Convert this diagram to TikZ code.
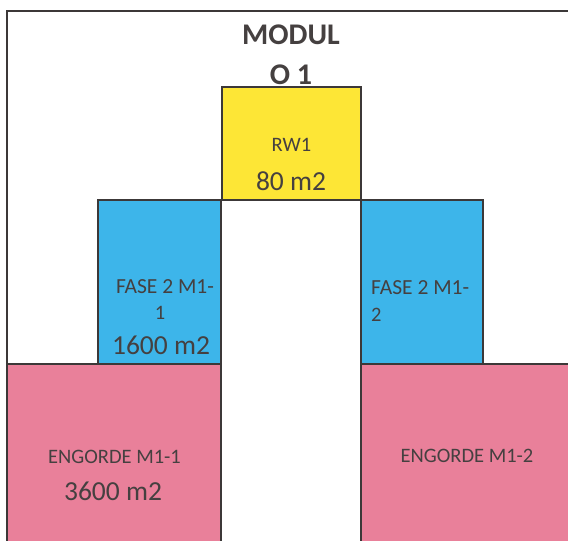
\documentclass[tikz,border=0pt]{standalone}
\usepackage{fontspec}
\setmainfont{Carlito}
\definecolor{ylw}{HTML}{FDE636}
\definecolor{blu}{HTML}{3DB5EA}
\definecolor{pnk}{HTML}{E9809A}
\definecolor{edgec}{HTML}{3C3838}
\definecolor{txt}{HTML}{454040}
\begin{document}
\begin{tikzpicture}[x=1pt,y=-1pt,
 room/.style={draw=edgec, line width=1.6pt, rectangle, inner sep=0pt, outer sep=0pt, anchor=north west},
 lbl/.style={text=txt, inner sep=0pt, font=\fontsize{20.5}{24}\selectfont},
 big/.style={text=txt, inner sep=0pt, font=\fontsize{27.5}{32}\selectfont},
 ttl/.style={text=txt, inner sep=0pt, font=\bfseries\fontsize{30}{34}\selectfont}]
\useasboundingbox (0,0) rectangle (568,541);
\clip (0,0) rectangle (568,541);
\fill[white] (0,0) rectangle (568,541);
% outer frame
\coordinate (ftl) at (7,11);
\coordinate (ftr) at (575,11);
\coordinate (fbl) at (7,550);
\draw[edgec, line width=1.6pt] (ftr) -- (ftl) -- (fbl);
% rooms
\node[room, fill=pnk, minimum width=214pt, minimum height=200pt] (eng1) at (7,364) {};
\node[room, fill=pnk, minimum width=220pt, minimum height=200pt] (eng2) at (361,364) {};
\node[room, fill=blu, minimum width=123pt, minimum height=164pt] (fase1) at (98,200) {};
\node[room, fill=blu, minimum width=122pt, minimum height=164pt] (fase2) at (361,200) {};
\node[room, fill=ylw, minimum width=139pt, minimum height=113pt] (rw1) at (222,87) {};
% labels
\node[ttl] (t1) at (291,35) {MODUL};
\node[ttl] (t2) at (291,75) {O 1};
\node[lbl] (rwl) at (291.5,145) {RW1};
\node[big] (rwa) at (291,181.5) {80 m2};
\node[lbl, font=\fontsize{21.5}{24}\selectfont] (f1a) at (165,287) {FASE 2 M1-};
\node[lbl] (f1b) at (160,313) {1};
\node[big] (f1c) at (161,345) {1600 m2};
\node[lbl, anchor=west, font=\fontsize{21.5}{24}\selectfont] (f2a) at (371,287.5) {FASE 2 M1-};
\node[lbl, anchor=west] (f2b) at (371,315) {2};
\node[lbl] (e1a) at (114.5,456.5) {ENGORDE M1-1};
\node[big] (e1b) at (113,491) {3600 m2};
\node[lbl] (e2a) at (467,455.5) {ENGORDE M1-2};
\end{tikzpicture}
\end{document}
